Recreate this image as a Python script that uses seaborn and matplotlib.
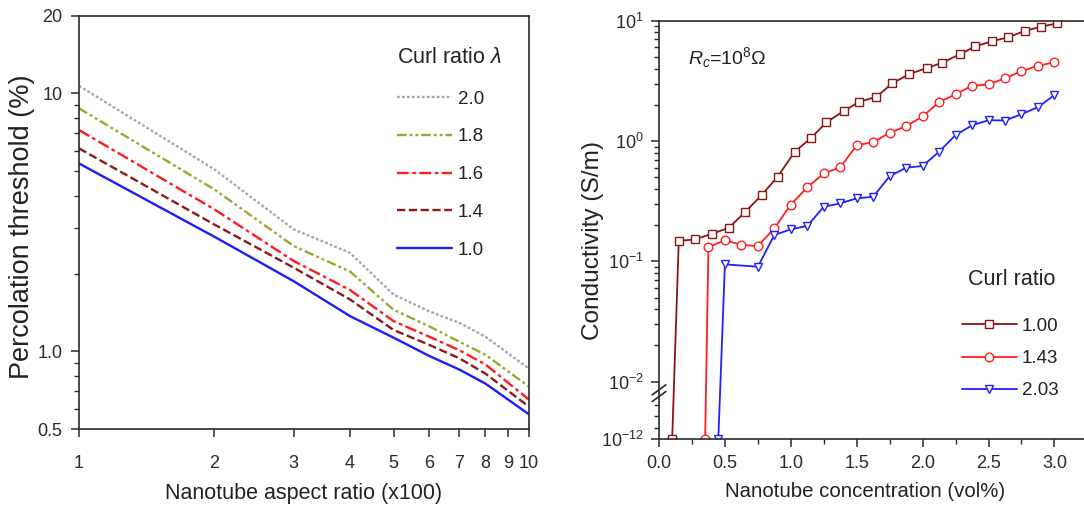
import numpy as np
import pandas as pd
import matplotlib
matplotlib.use("Agg")
import matplotlib.pyplot as plt
import seaborn as sns
from matplotlib.ticker import FixedLocator, FixedFormatter, NullFormatter, NullLocator

# ---- Left panel: percolation threshold vs nanotube aspect ratio (x100) ----
aspect_ratio = [1, 2, 3, 4, 5, 6, 7, 8, 10]
curl_labels = ["2.0", "1.8", "1.6", "1.4", "1.0"]
thr_20 = [10.7, 5.07, 2.97, 2.41, 1.66, 1.43, 1.29, 1.14, 0.857]
thr_18 = [8.75, 4.24, 2.56, 2.04, 1.45, 1.25, 1.09, 0.97, 0.73]
thr_16 = [7.21, 3.55, 2.24, 1.73, 1.31, 1.14, 1.01, 0.89, 0.65]
thr_14 = [6.12, 3.10, 2.11, 1.59, 1.21, 1.06, 0.94, 0.82, 0.61]
thr_10 = [5.35, 2.78, 1.87, 1.37, 1.13, 0.96, 0.85, 0.75, 0.57]

# ---- Right panel: conductivity vs nanotube concentration, Rc = 1e8 ohm ----
ratio_labels = ["1.00", "1.43", "2.03"]
conc_100 = [0.10, 0.15, 0.27, 0.40, 0.53, 0.65, 0.78, 0.90, 1.03, 1.15, 1.27, 1.40,
            1.52, 1.65, 1.77, 1.90, 2.03, 2.15, 2.28, 2.40, 2.53, 2.65, 2.78, 2.90, 3.02]
sigma_100 = [1e-12, 0.148, 0.152, 0.169, 0.19, 0.255, 0.356, 0.505, 0.815, 1.05, 1.43, 1.77,
             2.12, 2.33, 3.02, 3.61, 4.03, 4.48, 5.25, 6.12, 6.76, 7.28, 8.26, 8.92, 9.51]
conc_143 = [0.35, 0.375, 0.50, 0.625, 0.75, 0.875, 1.00, 1.125, 1.25, 1.375, 1.50, 1.625,
            1.75, 1.875, 2.00, 2.125, 2.25, 2.375, 2.50, 2.625, 2.75, 2.875, 3.00]
sigma_143 = [1e-12, 0.131, 0.150, 0.137, 0.134, 0.188, 0.296, 0.412, 0.538, 0.604, 0.921, 0.98,
             1.17, 1.33, 1.60, 2.10, 2.45, 2.88, 2.95, 3.32, 3.81, 4.22, 4.51]
conc_203 = [0.45, 0.50, 0.75, 0.875, 1.00, 1.125, 1.25, 1.375, 1.50, 1.625, 1.75, 1.875,
            2.00, 2.125, 2.25, 2.375, 2.50, 2.625, 2.75, 2.875, 3.00]
sigma_203 = [1e-12, 0.0944, 0.0902, 0.1655, 0.1845, 0.197, 0.284, 0.303, 0.334, 0.344, 0.51,
             0.60, 0.62, 0.815, 1.12, 1.35, 1.49, 1.48, 1.67, 1.91, 2.41]

sns.set_theme(style="ticks")
plt.rcParams.update({
    "font.family": ["Liberation Sans", "DejaVu Sans"],
    "mathtext.fontset": "custom",
    "mathtext.rm": "Liberation Sans",
    "mathtext.it": "Liberation Sans:italic",
    "mathtext.bf": "Liberation Sans:bold",
    "axes.edgecolor": "#2a2a2a",
    "axes.linewidth": 1.2,
    "xtick.color": "#2a2a2a",
    "ytick.color": "#2a2a2a",
    "text.color": "#222222",
    "axes.labelcolor": "#222222",
})

W, H = 1084, 508
fig = plt.figure(figsize=(W / 100, H / 100), dpi=100)

def px_axes(left, top, right, bottom):
    return fig.add_axes([left / W, 1 - bottom / H, (right - left) / W, (bottom - top) / H])

# ================= Left panel =================
axL = px_axes(79, 15.7, 529, 429)
axL.set_xscale("log")
axL.set_yscale("log")

left_series = [thr_20, thr_18, thr_16, thr_14, thr_10]
left_colors = ["#a8a8a8", "#a3a32e", "#ff1c1c", "#8c1a1a", "#1c1cff"]
left_styles = [(0, (1.2, 0.9)), (0, (4, 1.3, 1.2, 1.3, 1.2, 1.3)), (0, (5, 1.5, 1.5, 1.5)),
               (0, (3.5, 1.5)), "-"]
for lab, vals, col, ls in zip(curl_labels, left_series, left_colors, left_styles):
    df = pd.DataFrame({"ratio": aspect_ratio, "thr": vals})
    sns.lineplot(data=df, x="ratio", y="thr", ax=axL, color=col, linestyle=ls,
                 linewidth=1.7, label=lab, legend=False)

axL.set_xlim(1, 10)
axL.set_ylim(0.5, 20)
axL.xaxis.set_major_locator(FixedLocator([1, 2, 3, 4, 5, 6, 7, 8, 9, 10]))
axL.xaxis.set_major_formatter(FixedFormatter(["1", "2", "3", "4", "5", "6", "7", "8", "9", "10"]))
axL.xaxis.set_minor_locator(NullLocator())
axL.yaxis.set_major_locator(FixedLocator([0.5, 1.0, 10, 20]))
axL.yaxis.set_major_formatter(FixedFormatter(["0.5", "1.0", "10", "20"]))
axL.yaxis.set_minor_locator(FixedLocator([0.6, 0.7, 0.8, 0.9, 2, 3, 4, 5, 6, 7, 8, 9]))
axL.yaxis.set_minor_formatter(NullFormatter())
axL.tick_params(which="major", direction="out", length=6, width=1.1, labelsize=13, pad=6)
axL.tick_params(axis="x", which="major", pad=13)
axL.tick_params(which="minor", direction="out", length=3.5, width=1.0)
axL.set_xlabel("Nanotube aspect ratio (x100)", fontsize=15.5, labelpad=8)
axL.set_ylabel("Percolation threshold (%)", fontsize=19.5)
axL.yaxis.set_label_coords(-0.098, 0.489)
for s in axL.spines.values():
    s.set_visible(True)

axL.text(0.7067, 0.900, "Curl ratio $\\lambda$", transform=axL.transAxes, fontsize=15.5,
         ha="left", va="center")
legL = axL.legend(loc="upper left", frameon=False, fontsize=13.5, handlelength=2.93,
                  handletextpad=0.32, labelspacing=1.1, borderpad=0, borderaxespad=0,
                  bbox_to_anchor=(0.7067, 0.819))

# ================= Right panel =================
def fwd(y):
    ly = np.log10(np.maximum(np.asarray(y, dtype=float), 1e-300))
    return np.where(ly >= -2, ly, -2 + (ly + 2) * 0.0479)

def inv(t):
    t = np.asarray(t, dtype=float)
    return np.where(t >= -2, 10.0 ** t, 10.0 ** (-2 + (t + 2) / 0.0479))

axR = px_axes(659, 20.7, 659 + 131.8 * 3.25, 439.3)
axR.set_yscale("function", functions=(fwd, inv))

right_series = [(conc_100, sigma_100, "#8b1414", "s", 5.4),
                (conc_143, sigma_143, "#ff2020", "o", 6.2),
                (conc_203, sigma_203, "#2020ff", "v", 6.4)]
for lab, (xs, ys, col, mk, ms) in zip(ratio_labels, right_series):
    df = pd.DataFrame({"conc": xs, "sigma": ys})
    sns.lineplot(data=df, x="conc", y="sigma", ax=axR, color=col, linewidth=1.3,
                 marker=mk, markersize=ms, markerfacecolor="white",
                 markeredgecolor=col, markeredgewidth=1.0, label=lab, legend=False)

axR.set_xlim(0, 3.25)
axR.set_ylim(1e-12, 10)
axR.xaxis.set_major_locator(FixedLocator([0, 0.5, 1.0, 1.5, 2.0, 2.5, 3.0]))
axR.xaxis.set_major_formatter(FixedFormatter(["0.0", "0.5", "1.0", "1.5", "2.0", "2.5", "3.0"]))
axR.xaxis.set_minor_locator(FixedLocator([0.25, 0.75, 1.25, 1.75, 2.25, 2.75]))
axR.yaxis.set_major_locator(FixedLocator([1e-12, 1e-2, 1e-1, 1, 10]))
axR.yaxis.set_major_formatter(FixedFormatter(["$10^{-12}$", "$10^{-2}$", "$10^{-1}$",
                                               "$10^{0}$", "$10^{1}$"]))
minor_y = [m * 10.0 ** e for e in (-2, -1, 0) for m in range(2, 10)] + [1e-10, 1e-8, 1e-6]
axR.yaxis.set_minor_locator(FixedLocator(minor_y))
axR.yaxis.set_minor_formatter(NullFormatter())
axR.tick_params(which="major", direction="out", length=6, width=1.1, labelsize=13, pad=5)
axR.tick_params(which="minor", direction="out", length=3.5, width=1.0)
axR.set_xlabel("Nanotube concentration (vol%)", fontsize=14.7)
axR.xaxis.set_label_coords(0.481, -0.102)
axR.set_ylabel("Conductivity (S/m)", fontsize=17.6)
axR.yaxis.set_label_coords(-0.128, 0.476)
for s in axR.spines.values():
    s.set_visible(True)

# axis-break marks on the y axis
t0, t1 = float(fwd(1e-12)), float(fwd(10))
yb = (float(fwd(1e-4)) - t0) / (t1 - t0)
for dy in (-0.008, 0.008):
    axR.plot([-0.016, 0.016], [yb + dy - 0.012, yb + dy + 0.012], transform=axR.transAxes,
             color="#2a2a2a", lw=1.2, clip_on=False)

axR.text(0.068, 0.912, "$R_c$=10$^{8}$\u03a9", transform=axR.transAxes, fontsize=14,
         ha="left", va="center")

axR.text(0.824, 0.381, "Curl ratio", transform=axR.transAxes, fontsize=15.5,
         ha="center", va="center")
legR = axR.legend(loc="upper left", frameon=False, fontsize=13.5, handlelength=2.93,
                  handletextpad=0.27, labelspacing=0.8, borderpad=0, borderaxespad=0,
                  bbox_to_anchor=(0.707, 0.290))

fig.savefig("out.png", dpi=100)
